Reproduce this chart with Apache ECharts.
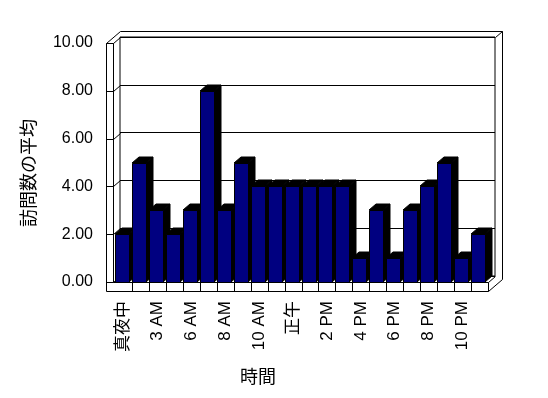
<!DOCTYPE html>
<html>
<head>
<meta charset="utf-8">
<script src="https://cdn.jsdelivr.net/npm/echarts@6.0.0/dist/echarts.min.js"></script>
<style>
  html, body { margin: 0; padding: 0; background: #fff; }
  #chart { width: 548px; height: 398px; }
</style>
</head>
<body>
<div id="chart"></div>
<script>
// 時間帯（ラベルは一つおきに表示）
var hours = ['真夜中', '1 AM', '3 AM', '5 AM', '6 AM', '7 AM', '8 AM', '9 AM', '10 AM', '11 AM', '正午',
  '1 PM', '2 PM', '3 PM', '4 PM', '5 PM', '6 PM', '7 PM', '8 PM', '9 PM', '10 PM', '11 PM'];
// 訪問数の平均
var visits = [2, 5, 3, 2, 3, 8, 3, 5, 4, 4, 4, 4, 4, 4, 1, 3, 1, 3, 4, 5, 1, 2];
var yTicks = [0, 2, 4, 6, 8, 10];

// 3D の奥行き
var DX = 7, DY = -6;
// 前面プロット領域
var L = 115, R = 488, T = 43, B = 282;
var FLOOR = 9;

var latin = "'Liberation Sans', 'Noto Sans CJK JP', sans-serif";
var cjk = "'Noto Sans CJK JP', sans-serif";

function line(x1, y1, x2, y2) {
  return {
    type: 'line',
    shape: { x1: x1 + 0.5, y1: y1 + 0.5, x2: x2 + 0.5, y2: y2 + 0.5 },
    style: { stroke: '#000', lineWidth: 1 },
    z: 10
  };
}

var chart = echarts.init(document.getElementById('chart'));

chart.setOption({
  backgroundColor: '#fff',
  animation: false,
  grid: [
    // 前面（棒）
    { left: L, right: 548 - R, top: T, bottom: 398 - B },
    // 背面の壁
    {
      left: L - 2 + DX, right: 548 - R - DX, top: T + DY, bottom: 398 - B - DY,
      show: true, borderColor: '#000', borderWidth: 1, backgroundColor: '#fff'
    }
  ],
  xAxis: [
    {
      type: 'category',
      gridIndex: 0,
      data: hours,
      axisLine: { show: false },
      axisTick: { show: false },
      axisLabel: {
        interval: 1,
        rotate: 90,
        margin: 19,
        color: '#000',
        fontSize: 17,
        fontFamily: latin
      }
    },
    { type: 'value', gridIndex: 1, show: false }
  ],
  yAxis: [
    {
      type: 'value',
      gridIndex: 0,
      min: 0,
      max: 10,
      interval: 2,
      axisLine: { show: false },
      axisTick: { show: false },
      splitLine: { show: false },
      axisLabel: {
        margin: 22,
        color: '#000',
        fontSize: 16,
        fontFamily: latin,
        formatter: function (v) { return v.toFixed(2); }
      }
    },
    {
      type: 'value',
      gridIndex: 1,
      min: 0,
      max: 10,
      interval: 2,
      axisLine: { show: false },
      axisTick: { show: false },
      axisLabel: { show: false },
      splitLine: { lineStyle: { color: '#000', width: 1 } }
    }
  ],
  series: [
    {
      // 左の壁の目盛り線
      type: 'custom',
      xAxisIndex: 0,
      yAxisIndex: 0,
      data: yTicks.map(function (v) { return [0, v]; }),
      renderItem: function (params, api) {
        var y = Math.round(api.coord([0, api.value(1)])[1]) + 0.5;
        var x0 = params.coordSys.x;
        return {
          type: 'polyline',
          shape: { points: [[x0 - 9 + 0.5, y], [x0 - 2 + 0.5, y], [x0 - 2 + DX + 0.5, y + DY]] },
          style: { stroke: '#000', lineWidth: 1, fill: null }
        };
      }
    },
    {
      type: 'custom',
      name: '訪問数の平均',
      xAxisIndex: 0,
      yAxisIndex: 0,
      data: visits.map(function (v, i) { return [i, v]; }),
      renderItem: function (params, api) {
        var top = api.coord([api.value(0), api.value(1)]);
        var base = api.coord([api.value(0), 0]);
        var cw = api.size([1, 0])[0];
        var x0 = Math.round(top[0] - cw / 2);
        var w = Math.round(cw * 0.83);
        var yt = Math.round(top[1]);
        var yb = Math.round(base[1]);
        var children = [
          {
            type: 'polygon',
            shape: { points: [[x0 + w, yt], [x0 + w + DX, yt + DY], [x0 + w + DX, yb + DY], [x0 + w, yb]] },
            style: { fill: '#000', stroke: '#000', lineWidth: 1 }
          },
          {
            type: 'polygon',
            shape: { points: [[x0, yt], [x0 + DX, yt + DY], [x0 + w + DX, yt + DY], [x0 + w, yt]] },
            style: { fill: '#000', stroke: '#000', lineWidth: 1 }
          },
          {
            type: 'rect',
            shape: { x: x0 + 0.5, y: yt + 0.5, width: w, height: yb - yt },
            style: { fill: '#000080', stroke: '#000', lineWidth: 1 }
          }
        ];
        if (api.value(0) > 0) {
          children.push({
            type: 'line',
            shape: { x1: x0 + 0.5, y1: yb + 0.5, x2: x0 + 0.5, y2: yb + FLOOR + 0.5 },
            style: { stroke: '#000', lineWidth: 1 }
          });
        }
        return { type: 'group', children: children };
      }
    }
  ],
  graphic: [
    // 左の壁
    line(L - 9, T, L - 9, B + FLOOR),
    line(L - 2, T, L - 2, B),
    line(L - 9, T, L - 2, T),
    line(L - 9, T, L - 2 + DX, T + 2 * DY),
    // 背面の壁の上端と右端
    line(L - 2 + DX, T + 2 * DY, R + 2 * DX, T + 2 * DY),
    line(R + DX, T + DY, R + 2 * DX, T + 2 * DY),
    line(R + 2 * DX, T + 2 * DY, R + 2 * DX, B + FLOOR + 2 * DY),
    // 床
    line(L - 2, B, R, B),
    line(L - 9, B + FLOOR, R, B + FLOOR),
    line(R, B, R, B + FLOOR),
    line(R, B, R + DX, B + DY),
    line(R, B + FLOOR, R + 2 * DX, B + FLOOR + 2 * DY),
    // 軸タイトル
    {
      type: 'text',
      x: 28,
      y: 173,
      rotation: Math.PI / 2,
      style: {
        text: '訪問数の平均',
        fill: '#000',
        fontSize: 18,
        fontFamily: cjk,
        align: 'center',
        verticalAlign: 'middle'
      }
    },
    {
      type: 'text',
      x: 258,
      y: 376,
      style: {
        text: '時間',
        fill: '#000',
        fontSize: 18,
        fontFamily: cjk,
        align: 'center',
        verticalAlign: 'middle'
      }
    }
  ]
});
</script>
</body>
</html>
